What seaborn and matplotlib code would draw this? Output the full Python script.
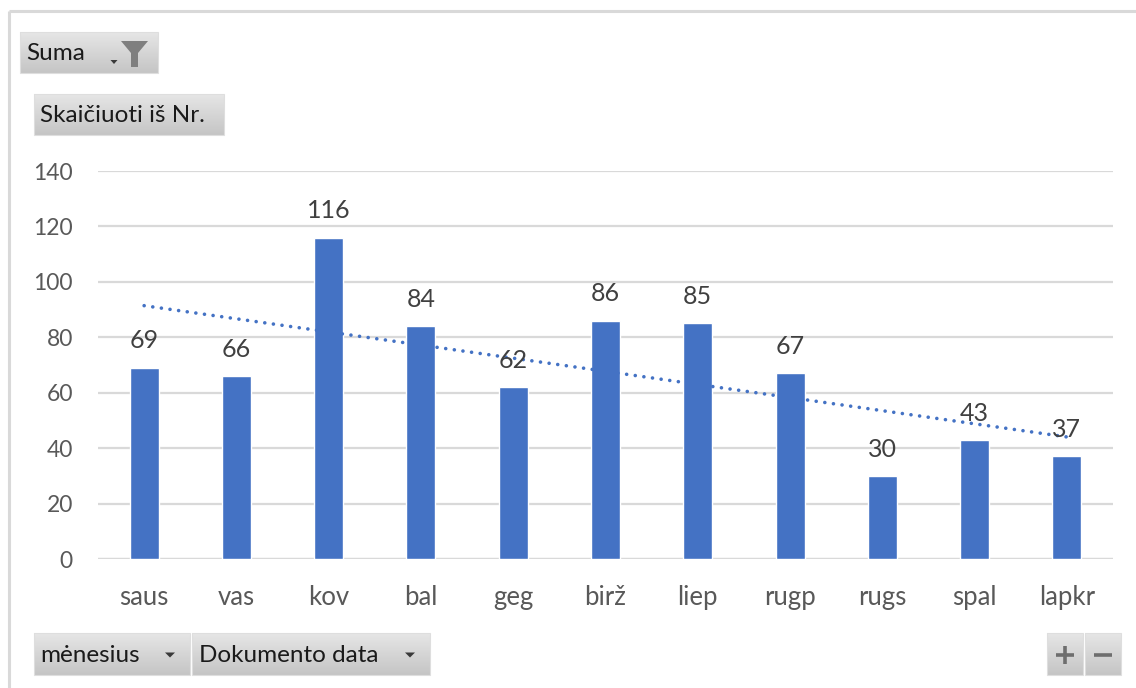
import numpy as np
import pandas as pd
import matplotlib
matplotlib.use("Agg")
import matplotlib.pyplot as plt
from matplotlib.colors import LinearSegmentedColormap
from matplotlib.patches import Polygon, Rectangle
import seaborn as sns

# Monthly counts ("Skaičiuoti iš Nr.") per month
months = ["saus", "vas", "kov", "bal", "geg", "birž", "liep", "rugp", "rugs", "spal", "lapkr"]
counts = [69, 66, 116, 84, 62, 86, 85, 67, 30, 43, 37]
y_ticks = [0, 20, 40, 60, 80, 100, 120, 140]

BAR = "#4472C4"
GRID = "#d9d9d9"
TICK = "#595959"
LABEL = "#404040"

sns.set_theme(style="white")
plt.rcParams["font.family"] = ["Lato", "DejaVu Sans"]

W, H = 1136, 688
fig = plt.figure(figsize=(W / 100, H / 100), dpi=100)
fig.patch.set_facecolor("white")

# plot area in pixel terms
left, right, top, bottom = 98, 1113, 171, 559
ax = fig.add_axes([left / W, 1 - bottom / H, (right - left) / W, (bottom - top) / H])

df = pd.DataFrame({"month": months, "count": counts})
sns.barplot(data=df, x="month", y="count", color=BAR, width=0.315,
            saturation=1, ax=ax, zorder=3)

# linear trendline over the months
sns.regplot(x=np.arange(len(counts)), y=np.array(counts, dtype=float), ax=ax,
            scatter=False, ci=None, truncate=True,
            line_kws=dict(color=BAR, lw=2.6, linestyle=(0, (0.01, 2.4)),
                          dash_capstyle="round", zorder=4))

# value labels above bars
for i, v in enumerate(counts):
    ax.annotate(str(v), (i, v), xytext=(0, 11), textcoords="offset points",
                ha="center", va="bottom", fontsize=18, color=LABEL, zorder=5)

ax.set_ylim(0, 140)
ax.set_xlim(-0.5, len(months) - 0.5)
ax.set_yticks(y_ticks)
ax.set_yticklabels([str(t) for t in y_ticks])
ax.yaxis.grid(True, color=GRID, lw=1.6, zorder=0)
ax.set_axisbelow(True)
for s in ["top", "right", "left", "bottom"]:
    ax.spines[s].set_visible(False)
ax.axhline(0, color=GRID, lw=1.6, zorder=2)
ax.tick_params(axis="y", length=0, pad=18, labelsize=16.5, labelcolor=TICK)
ax.tick_params(axis="x", length=0, pad=19, labelsize=18.5, labelcolor=TICK)
ax.set_xlabel("")
ax.set_ylabel("")
ax.set_facecolor("none")

# overlay in pixel coordinates for the chart frame and field buttons
ov = fig.add_axes([0, 0, 1, 1], zorder=10)
ov.set_facecolor("none")
ov.axis("off")

ov.plot([9, W], [11, 11], color=GRID, lw=2.2, solid_capstyle="butt")
ov.plot([9, 9], [11, H], color=GRID, lw=2.2, solid_capstyle="butt")

grad_cmap = LinearSegmentedColormap.from_list("btn", ["#e6e6e6", "#c5c5c5"])
grad = np.linspace(0, 1, 64).reshape(-1, 1)


def button(x0, y0, x1, y1):
    ov.imshow(grad, extent=(x0, x1, y1, y0), cmap=grad_cmap, aspect="auto",
              origin="upper", interpolation="bilinear", zorder=1)
    ov.add_patch(Rectangle((x0, y0), x1 - x0, y1 - y0, fill=False,
                           ec="#dedede", lw=0.8, zorder=2))


def down_arrow(cx, cy, w=10, h=5, color="#3a3a3a"):
    ov.add_patch(Polygon([[cx - w / 2, cy - h / 2], [cx + w / 2, cy - h / 2],
                          [cx, cy + h / 2]], closed=True, fc=color, ec="none", zorder=3))


btn_font = dict(fontsize=17.5, color="#1a1a1a", va="center", ha="left", zorder=4)

# "Suma" filter button
button(20, 32, 158, 73)
ov.text(26, 53, "Suma", **btn_font)
down_arrow(114, 62, w=7, h=4)
ov.add_patch(Polygon([[121, 41], [148, 41], [138, 53], [138, 67], [131, 67], [131, 53]],
                     closed=True, fc="#7f7f7f", ec="none", zorder=3))

# value field button
button(34, 94, 224, 135)
ov.text(40, 115, "Skaičiuoti iš Nr.", **btn_font)

# axis field buttons
button(34, 633, 190, 675)
ov.text(40, 655, "mėnesius", **btn_font)
down_arrow(170, 655)
button(192, 633, 430, 675)
ov.text(199, 655, "Dokumento data", **btn_font)
down_arrow(410, 655)

# expand / collapse buttons
button(1047, 633, 1083, 675)
button(1085, 633, 1121, 675)
ov.plot([1056, 1074], [655, 655], color="#6e6e6e", lw=2.6, solid_capstyle="butt", zorder=4)
ov.plot([1065, 1065], [646, 664], color="#6e6e6e", lw=2.6, solid_capstyle="butt", zorder=4)
ov.plot([1094, 1112], [655, 655], color="#6e6e6e", lw=2.6, solid_capstyle="butt", zorder=4)

ov.set_xlim(0, W)
ov.set_ylim(H, 0)

fig.savefig("out.png", dpi=100, facecolor="white")
